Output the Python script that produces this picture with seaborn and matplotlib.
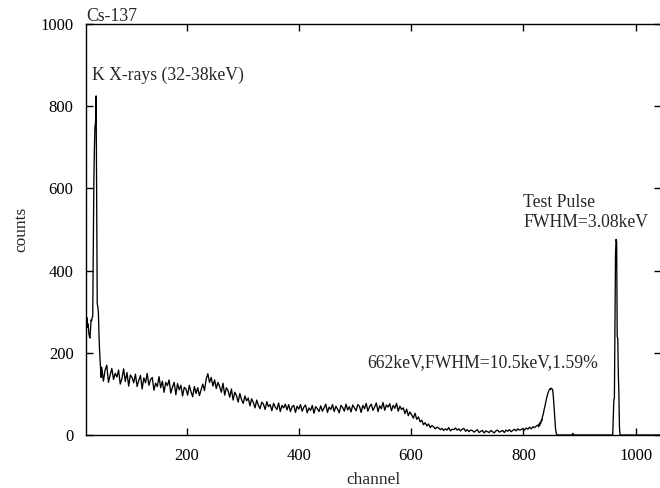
import numpy as np
import pandas as pd
import matplotlib
matplotlib.use("Agg")
import matplotlib.pyplot as plt
import seaborn as sns

# K X-ray region, one value per channel, channels 21..48
xray_start = 21
xray_counts = [290, 275, 285, 262, 270, 248, 240, 236, 255, 280,
               278, 285, 290, 450, 620, 700, 750, 760, 825, 560,
               320, 312, 300, 250, 210, 185, 160, 140]

# Compton continuum, every 3rd channel, channels 49..676
cont_start = 49
cont_counts = [165, 131, 158, 170, 128, 146, 162, 135, 150, 141,
               158, 124, 137, 161, 130, 152, 119, 146, 140, 127,
               148, 118, 133, 145, 112, 139, 127, 150, 121, 135,
               140, 109, 126, 118, 142, 115, 131, 104, 128, 120,
               134, 102, 117, 128, 98, 125, 110, 121, 95, 116,
               112, 97, 121, 105, 93, 118, 101, 115, 96, 110,
               124, 108, 136, 149, 128, 140, 119, 134, 113, 128,
               118, 104, 126, 97, 115, 108, 92, 112, 85, 104,
               96, 80, 101, 86, 77, 95, 83, 90, 71, 88,
               79, 66, 85, 72, 64, 80, 75, 62, 81, 69,
               74, 59, 77, 68, 62, 78, 57, 72, 66, 75,
               61, 74, 57, 69, 72, 55, 70, 63, 74, 58,
               68, 73, 54, 66, 60, 72, 53, 69, 64, 57,
               71, 58, 66, 75, 55, 68, 62, 74, 57, 70,
               63, 54, 72, 67, 58, 75, 61, 69, 56, 73,
               66, 59, 74, 70, 55, 72, 64, 77, 58, 69,
               75, 60, 68, 78, 57, 71, 64, 79, 60, 73,
               68, 76, 59, 72, 65, 77, 58, 70, 62, 66,
               52, 63, 47, 56, 49, 41, 53, 38, 44, 32,
               36, 25, 30, 22, 27, 18, 23, 20, 15, 19,
               17, 13, 16, 11, 15, 12, 18, 10, 14, 13]

# valley between edge and photopeak, every 3rd channel, 679..826
valley_start = 679
valley_counts = [17, 12, 15, 10, 14, 16, 9, 13, 8, 12,
                 11, 7, 10, 13, 6, 9, 11, 5, 10, 8,
                 6, 11, 8, 5, 10, 12, 7, 9, 11, 6,
                 12, 9, 13, 8, 11, 14, 10, 15, 12, 13,
                 16, 12, 17, 14, 19, 15, 20, 18, 22, 24]

# 662 keV photopeak, one value per channel, 827..860
peak_start = 827
peak_counts = [20, 27, 23, 31, 29, 37, 35, 46, 49, 55,
               63, 68, 75, 82, 88, 94, 99, 103, 107, 110,
               112, 111, 114, 113, 112, 110, 98, 80, 58, 36,
               18, 7, 2, 0]

# empty stretch
gap_channels = [887, 888, 889, 958]
gap_counts = [0, 4, 0, 0]

# test pulse, one value per channel, 959..972
pulse_start = 959
pulse_counts = [0, 40, 85, 90, 250, 440, 476, 470, 240, 235,
                150, 100, 20, 0]

tail_channels = [1045]
tail_counts = [0]

channel = np.concatenate([
    np.arange(len(xray_counts)) + xray_start,
    np.arange(len(cont_counts)) * 3 + cont_start,
    np.arange(len(valley_counts)) * 3 + valley_start,
    np.arange(len(peak_counts)) + peak_start,
    gap_channels,
    np.arange(len(pulse_counts)) + pulse_start,
    tail_channels,
])
counts = np.concatenate([xray_counts, cont_counts, valley_counts,
                         peak_counts, gap_counts, pulse_counts, tail_counts])
df = pd.DataFrame({"channel": channel, "counts": counts})

sns.set_theme(style="ticks")
plt.rcParams["font.family"] = ["Liberation Serif", "DejaVu Serif"]
plt.rcParams["axes.linewidth"] = 1.0

fig = plt.figure(figsize=(6.6, 4.88), dpi=100)
ax = fig.add_axes([86 / 660, 1 - 435 / 488, 575 / 660, 411 / 488])

sns.lineplot(data=df, x="channel", y="counts", ax=ax, color="black",
             linewidth=0.95, estimator=None, sort=False)

ax.set_xlim(21, 1045)
ax.set_ylim(0, 1000)
ax.set_xticks([200, 400, 600, 800, 1000])
ax.set_yticks([0, 200, 400, 600, 800, 1000])
ax.tick_params(direction="in", length=5, width=1, labelsize=12,
               top=True, right=True, color="black", labelcolor="black")
ax.tick_params(axis="y", pad=9)
ax.tick_params(axis="x", pad=9)
for s in ax.spines.values():
    s.set_color("black")

ax.set_xlabel("channel", fontsize=12.5, labelpad=6)
ax.set_ylabel("counts", fontsize=12.5, labelpad=8)

fs = 12.7
ax.text(0.0, 1.008, "Cs-137", transform=ax.transAxes, fontsize=fs,
        ha="left", va="baseline")
ax.text(31.7, 865, "K X-rays (32-38keV)", fontsize=fs, ha="left", va="baseline")
ax.text(800, 555, "Test Pulse", fontsize=fs, ha="left", va="baseline")
ax.text(800, 506, "FWHM=3.08keV", fontsize=fs, ha="left", va="baseline")
ax.text(521.7, 165, "662keV,FWHM=10.5keV,1.59%", fontsize=fs,
        ha="left", va="baseline")

fig.savefig("out.png", dpi=100)
